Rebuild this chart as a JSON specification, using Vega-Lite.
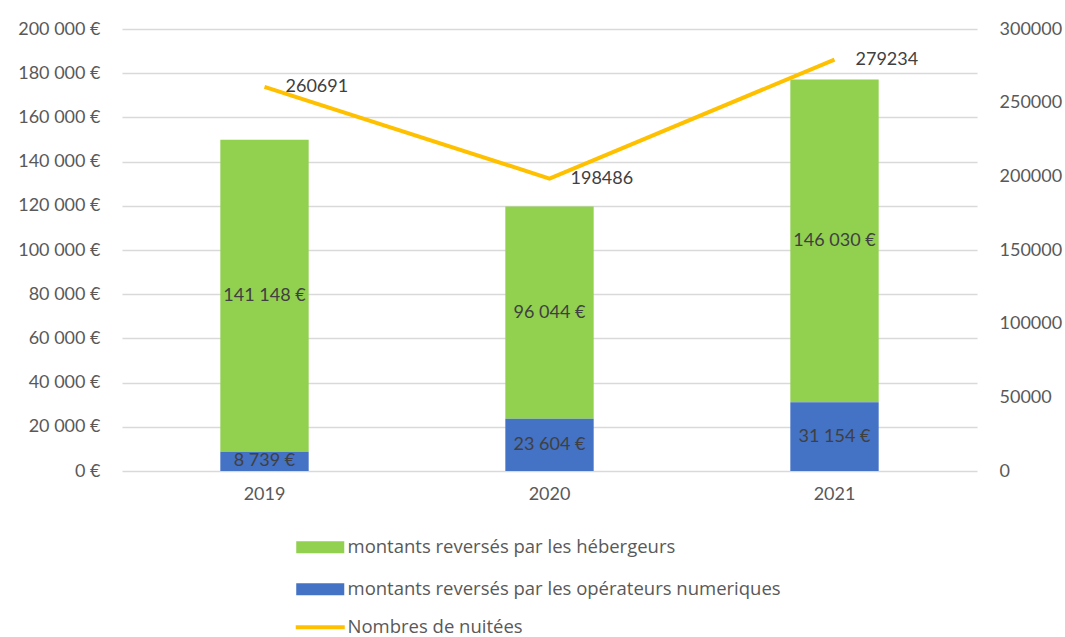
{
  "$schema": "https://vega.github.io/schema/vega-lite/v6.json",
  "width": 855,
  "height": 442,
  "autosize": {"type": "none"},
  "padding": {"left": 122, "top": 29, "right": 88, "bottom": 166},
  "config": {
    "locale": {"number": {"decimal": ",", "thousands": "\u00a0", "grouping": [3], "currency": ["", "\u00a0€"]}},
    "font": "Lato",
    "view": {"stroke": null},
    "axis": {"labelFont": "Lato", "labelFontSize": 18, "labelColor": "#595959", "ticks": false, "domain": false, "title": null, "gridColor": "#D9D9D9", "gridWidth": 1.5},
    "legend": {"labelFont": "Open Sans", "labelFontSize": 18.5, "labelColor": "#595959", "title": null, "padding": 0, "labelLimit": 700}
  },
  "datasets": {
    "montants": [
      {"year": "2019", "serie": "montants reversés par les hébergeurs", "value": 141148},
      {"year": "2019", "serie": "montants reversés par les opérateurs numeriques", "value": 8739},
      {"year": "2020", "serie": "montants reversés par les hébergeurs", "value": 96044},
      {"year": "2020", "serie": "montants reversés par les opérateurs numeriques", "value": 23604},
      {"year": "2021", "serie": "montants reversés par les hébergeurs", "value": 146030},
      {"year": "2021", "serie": "montants reversés par les opérateurs numeriques", "value": 31154}
    ],
    "nuitees": [
      {"year": "2019", "nuitees": 260691},
      {"year": "2020", "nuitees": 198486},
      {"year": "2021", "nuitees": 279234}
    ]
  },
  "encoding": {
    "x": {"field": "year", "type": "ordinal", "scale": {"paddingInner": 0.69, "paddingOuter": 0.345}, "axis": {"labelAngle": 0, "labelPadding": 14, "title": null}}
  },
  "layer": [
    {
      "data": {"name": "montants"},
      "transform": [
        {"stack": "value", "groupby": ["year"], "sort": [{"field": "serie", "order": "descending"}], "as": ["v0", "v1"]},
        {"calculate": "(datum.v0 + datum.v1) / 2", "as": "mid"}
      ],
      "layer": [
        {
          "mark": {"type": "bar"},
          "encoding": {
            "y": {"field": "v1", "type": "quantitative", "scale": {"domain": [0, 200000]}, "axis": {"values": [0, 20000, 40000, 60000, 80000, 100000, 120000, 140000, 160000, 180000, 200000], "format": "$,.0f", "labelPadding": 22, "grid": true}},
            "y2": {"field": "v0"},
            "fill": {
              "field": "serie", "type": "nominal",
              "scale": {"domain": ["montants reversés par les hébergeurs", "montants reversés par les opérateurs numeriques"], "range": ["#92D050", "#4472C4"]},
              "legend": {"orient": "none", "legendX": 189, "legendY": 509, "direction": "vertical", "symbolType": "M-3.43,-0.857H3.43V0.857H-3.43Z", "symbolSize": 196, "symbolStrokeWidth": 0, "labelOffset": 18, "rowPadding": 23}
            }
          }
        },
        {
          "mark": {"type": "text", "fontSize": 18, "color": "#404040", "font": "Lato"},
          "encoding": {
            "y": {"field": "mid", "type": "quantitative"},
            "text": {"field": "value", "type": "quantitative", "format": "$,.0f"}
          }
        }
      ]
    },
    {
      "data": {"name": "nuitees"},
      "layer": [
        {
          "mark": {"type": "line", "strokeWidth": 4},
          "encoding": {
            "y": {"field": "nuitees", "type": "quantitative", "scale": {"domain": [0, 300000]}, "axis": {"orient": "right", "values": [0, 50000, 100000, 150000, 200000, 250000, 300000], "format": "d", "grid": false, "labelPadding": 22}},
            "stroke": {
              "datum": "Nombres de nuitées",
              "scale": {"range": ["#FFC000"]},
              "legend": {"orient": "none", "legendX": 189, "legendY": 589, "symbolType": "M-3.5,0H3.5", "symbolSize": 196, "symbolStrokeWidth": 4, "labelOffset": 18}
            }
          }
        },
        {
          "mark": {"type": "text", "fontSize": 18, "color": "#404040", "align": "left", "baseline": "middle", "dx": 21, "font": "Lato"},
          "encoding": {
            "y": {"field": "nuitees", "type": "quantitative"},
            "text": {"field": "nuitees", "type": "quantitative", "format": "d"}
          }
        }
      ]
    }
  ],
  "resolve": {"scale": {"y": "independent"}}
}
